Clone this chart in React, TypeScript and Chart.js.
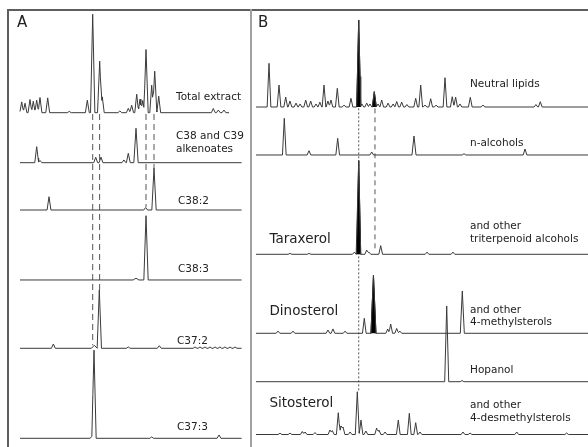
import React, { useEffect, useRef } from "react";
import { Chart, registerables } from "chart.js";
Chart.register(...registerables);

// Peak = [retention time, height, half-width (optional), filled (optional)]
type Peak = [number, number, number?, boolean?];

// ---------- Panel A : alkenone / alkenoate chromatograms ----------
const A_TOTAL_EXTRACT: Peak[] = [
  [5.27, 2.47], [6.64, 2.17], [8.71, 3.02], [10.08, 2.63], [11.49, 2.86], [12.86, 3.48], [16.06, 3.39],
  [25.0, 0.3], [32.5, 2.86], [34.73, 22.54, 0.9], [37.63, 11.78, 0.9], [38.71, 3.62],
  [46.0, 0.4], [49.5, 1.0], [50.9, 1.7], [52.99, 4.23], [54.36, 3.09], [55.5, 2.8],
  [56.85, 14.46, 0.9], [59.21, 6.29], [60.46, 9.5, 0.9], [62.12, 3.78],
  [84.77, 0.96], [86.85, 0.6], [89.2, 0.6],
];
const A_ALKENOATES: Peak[] = [
  [11.49, 3.66], [12.86, 0.5], [35.98, 1.24], [38.17, 1.26], [47.7, 0.62], [49.5, 2.15], [52.7, 7.87, 0.9],
];
const A_C38_2: Peak[] = [[16.6, 3.04], [56.7, 0.57], [60.17, 9.54, 0.9]];
const A_C38_3: Peak[] = [[52.7, 0.4, 1.2], [56.85, 14.71, 0.9]];
const A_C37_2: Peak[] = [
  [18.4, 0.98], [35.4, 0.69, 1.2], [37.47, 13.34, 0.9], [49.5, 0.3], [62.37, 0.6],
  [77.2, 0.3], [79.25, 0.3], [81.3, 0.3], [83.4, 0.3], [85.5, 0.3], [87.5, 0.3], [89.6, 0.3], [91.7, 0.3], [93.8, 0.3],
];
const A_C37_3: Peak[] = [[34.8, 0.6, 1.2], [35.27, 19.82, 0.9], [59.2, 0.3], [87.14, 0.76]];

const A_SERIES: Peak[][] = [A_TOTAL_EXTRACT, A_ALKENOATES, A_C38_2, A_C38_3, A_C37_2, A_C37_3];
const A_RT_START = [4.56, 4.56, 4.56, 4.56, 4.56, 4.56];
const A_RT_END = [91.3, 96.5, 96.5, 96.5, 96.5, 96.5];
const A_TRACE_LABELS = ["Total extract", "C38 and C39|alkenoates", "C38:2", "C38:3", "C37:2", "C37:3"];
// dashed markers: retention time, from, to (intensity axis)
const A_MARKER_RT = [34.73, 37.6, 56.85, 60.17];

// ---------- Panel B : neutral lipid fractions ----------
const B_NEUTRAL_LIPIDS: Peak[] = [
  [5.06, 10.0], [8.04, 5.03], [10.03, 2.29], [11.3, 1.37], [13.1, 0.9], [14.3, 0.7], [15.98, 1.6], [17.47, 1.37],
  [19.05, 0.7], [20.2, 1.1], [21.43, 5.03], [22.6, 1.37], [23.5, 1.6], [25.39, 4.28], [27.4, 0.45], [29.46, 1.99],
  [31.76, 19.9, 0.6, true], [32.7, 0.7], [34.14, 0.9], [35.1, 0.7], [36.4, 3.5, 0.6, true], [37.5, 0.7], [38.6, 1.6],
  [40.5, 0.9], [42.0, 0.7], [43.07, 1.26], [44.55, 1.14], [46.1, 0.57], [48.72, 1.99], [50.21, 5.03], [51.5, 0.45],
  [53.18, 1.9], [54.8, 0.45], [57.44, 6.7], [59.6, 2.36], [60.6, 2.29], [61.9, 0.7], [64.97, 2.22], [68.75, 0.45],
  [84.5, 0.57], [85.8, 1.21],
];
const B_N_ALCOHOLS: Peak[] = [
  [9.61, 8.4], [16.96, 0.98], [25.5, 3.82], [35.63, 0.69], [48.21, 4.35, 0.6], [63.1, 0.3], [81.25, 1.37],
];
const B_TRITERPENOIDS: Peak[] = [
  [11.3, 0.2], [17.0, 0.2], [30.45, 0.5], [31.76, 21.42, 0.6, true], [34.14, 0.98], [34.8, 0.5], [38.3, 1.97],
  [52.1, 0.5], [59.8, 0.5],
];
const B_METHYLSTEROLS: Peak[] = [
  [7.74, 0.5], [12.2, 0.5], [22.6, 0.75], [24.1, 1.0], [27.7, 0.5], [33.42, 3.43], [36.15, 13.3, 0.75, true],
  [40.39, 0.98], [41.28, 2.13], [43.07, 1.1], [44.0, 0.5], [62.59, 9.68, 0.6],
];
const B_HOPANOL: Peak[] = [[57.95, 17.32, 0.6], [62.5, 0.27]];
const B_DESMETHYLSTEROLS: Peak[] = [
  [8.33, 0.3], [11.3, 0.3], [14.97, 0.7], [15.8, 0.57], [18.75, 0.45], [23.2, 1.03], [23.9, 0.9], [25.68, 4.99],
  [26.5, 1.95], [27.1, 1.7], [29.2, 0.57], [31.34, 9.79, 0.6], [32.44, 3.3], [33.9, 0.8], [37.1, 1.49], [37.8, 1.0],
  [39.6, 0.57], [43.54, 3.3], [46.82, 4.85], [48.72, 2.7], [50.0, 0.57], [62.8, 0.57], [64.9, 0.34], [78.8, 0.57],
  [93.66, 0.34],
];

const B_SERIES: Peak[][] = [B_NEUTRAL_LIPIDS, B_N_ALCOHOLS, B_TRITERPENOIDS, B_METHYLSTEROLS, B_HOPANOL, B_DESMETHYLSTEROLS];
const B_RT_START = [1.19, 1.19, 1.19, 1.19, 1.19, 1.19];
const B_RT_END = [100, 100, 100, 100, 100, 100];
const B_TRACE_LABELS = ["Neutral lipids", "n-alcohols", "and other|triterpenoid alcohols", "and other|4-methylsterols", "Hopanol", "and other|4-desmethylsterols"];
const B_COMPOUND_LABELS = ["", "", "Taraxerol", "Dinosterol", "", "Sitosterol"];
const B_MARKER_RT = [31.76, 36.6];

// ---------- layout (offsets of stacked traces on the intensity axis, label placement) ----------
const A_LAYOUT = {
  offsets: [76.5, 65.06, 54.23, 38.22, 22.59, 1.99],
  labelRt: [69.3, 69.3, 70.1, 70.1, 69.7, 69.7],
  labelY: [80.09, 69.57, 56.29, 40.73, 24.26, 4.58],
  markerTop: [76.2, 76.2, 76.2, 76.2],
  markerBottom: [23.3, 35.9, 54.9, 63.6],
  markerDash: [[6, 4], [6, 4], [6, 4], [6, 4]],
  halfWidth: 0.8,
  letter: "A",
  letterRt: 3.32,
  compoundRt: 0,
  compoundY: [] as number[],
};
const B_LAYOUT = {
  offsets: [77.8, 66.82, 44.1, 26.02, 14.94, 2.86],
  labelRt: [64.88, 64.88, 64.88, 64.88, 64.88, 64.88],
  labelY: [83.0, 69.6, 49.05, 29.95, 17.6, 8.1],
  markerTop: [77.5, 77.5],
  markerBottom: [12.6, 45.1],
  markerDash: [[2, 2], [5, 4]],
  halfWidth: 0.55,
  letter: "B",
  letterRt: 1.79,
  compoundRt: 5.2,
  compoundY: [0, 0, 47.4, 30.96, 0, 9.84],
};

function buildTrace(peaks: Peak[], base: number, start: number, end: number, defW: number) {
  const xs = new Set<number>([start, end]);
  peaks.forEach(([rt, , w]) => {
    const ww = w ?? defW;
    [rt - ww, rt, rt + ww].forEach((x) => {
      if (x >= start && x <= end) xs.add(x);
    });
  });
  const sorted = Array.from(xs).sort((a, b) => a - b);
  return sorted.map((x) => ({
    x,
    y:
      base +
      peaks.reduce((s, [rt, h, w]) => {
        const ww = w ?? defW;
        const d = Math.abs(x - rt);
        return s + (d < ww ? h * (1 - d / ww) : 0);
      }, 0),
  }));
}

const FONT = "'DejaVu Sans', Verdana, sans-serif";

function makeConfig(series: Peak[][], starts: number[], ends: number[], labels: string[], compounds: string[], markers: number[], L: typeof A_LAYOUT) {
  const datasets: any[] = [];
  series.forEach((peaks, i) => {
    datasets.push({
      data: buildTrace(peaks, L.offsets[i], starts[i], ends[i], L.halfWidth),
      borderColor: "#3a3a3a",
      borderWidth: 1,
      pointRadius: 0,
      tension: 0,
      fill: false,
    });
    peaks
      .filter((p) => p[3])
      .forEach(([rt, h, w]) => {
        const ww = w ?? L.halfWidth;
        datasets.push({
          data: [
            { x: rt - ww, y: L.offsets[i] },
            { x: rt, y: L.offsets[i] + h },
            { x: rt + ww, y: L.offsets[i] },
          ],
          borderColor: "#000",
          backgroundColor: "#000",
          borderWidth: 1,
          pointRadius: 0,
          fill: { value: L.offsets[i] },
        });
      });
  });
  markers.forEach((rt, k) => {
    datasets.push({
      data: [
        { x: rt, y: L.markerTop[k] },
        { x: rt, y: L.markerBottom[k] },
      ],
      borderColor: "#555",
      borderWidth: 1,
      borderDash: L.markerDash[k],
      pointRadius: 0,
      fill: false,
    });
  });

  const textPlugin = {
    id: "texts",
    afterDatasetsDraw(chart: any) {
      const { ctx, scales } = chart;
      const xs = scales.x;
      const ys = scales.y;
      ctx.save();
      ctx.fillStyle = "#222";
      ctx.textAlign = "left";
      ctx.textBaseline = "middle";
      ctx.font = `15px ${FONT}`;
      ctx.fillText(L.letter, xs.getPixelForValue(L.letterRt), ys.getPixelForValue(97));
      ctx.font = `10.5px ${FONT}`;
      labels.forEach((lab, i) => {
        const parts = lab.split("|");
        const x = xs.getPixelForValue(L.labelRt[i]);
        const y = ys.getPixelForValue(L.labelY[i]);
        const lh = 12.5;
        parts.forEach((p, j) => {
          ctx.fillText(p, x, y + (j - (parts.length - 1) / 2) * lh);
        });
      });
      ctx.font = `13.5px ${FONT}`;
      compounds.forEach((c, i) => {
        if (!c) return;
        ctx.fillText(c, xs.getPixelForValue(L.compoundRt), ys.getPixelForValue(L.compoundY[i]));
      });
      ctx.restore();
    },
  };

  return {
    type: "line" as const,
    data: { datasets },
    options: {
      animation: false as const,
      responsive: false,
      maintainAspectRatio: false,
      events: [],
      layout: { padding: 0 },
      clip: false as const,
      plugins: { legend: { display: false }, tooltip: { enabled: false } },
      scales: {
        x: { type: "linear" as const, min: 0, max: 100, display: false },
        y: { type: "linear" as const, min: 0, max: 100, display: false },
      },
    },
    plugins: [textPlugin],
  };
}

export default function App() {
  const refA = useRef<HTMLCanvasElement>(null);
  const refB = useRef<HTMLCanvasElement>(null);

  useEffect(() => {
    const cA = new Chart(refA.current!, makeConfig(A_SERIES, A_RT_START, A_RT_END, A_TRACE_LABELS, [], A_MARKER_RT, A_LAYOUT) as any);
    const cB = new Chart(
      refB.current!,
      makeConfig(B_SERIES, B_RT_START, B_RT_END, B_TRACE_LABELS, B_COMPOUND_LABELS, B_MARKER_RT, B_LAYOUT) as any
    );
    return () => {
      cA.destroy();
      cB.destroy();
    };
  }, []);

  return (
    <div style={{ position: "absolute", left: 0, top: 0, width: 588, height: 447, background: "#fff", overflow: "hidden" }}>
      <div style={{ position: "absolute", left: 7, top: 9, width: 581, height: 2, background: "#5e5e5e" }} />
      <div style={{ position: "absolute", left: 7, top: 9, width: 2, height: 438, background: "#5e5e5e" }} />
      <div style={{ position: "absolute", left: 250, top: 9, width: 2, height: 438, background: "#a0a0a0" }} />
      <canvas ref={refA} width={241} height={437} style={{ position: "absolute", left: 9, top: 10 }} />
      <canvas ref={refB} width={336} height={437} style={{ position: "absolute", left: 252, top: 10 }} />
    </div>
  );
}
